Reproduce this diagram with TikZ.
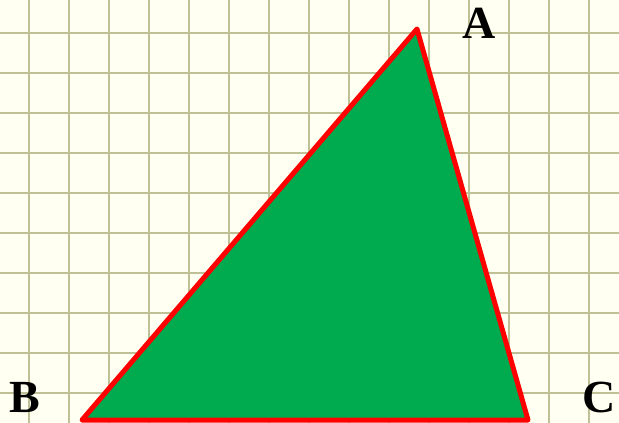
\documentclass[tikz,border=0pt]{standalone}
\usepackage{fontspec}
\setmainfont{Liberation Serif}
\definecolor{paper}{RGB}{255,255,242}
\definecolor{gridc}{RGB}{192,192,150}
\definecolor{trifill}{RGB}{0,171,80}
\definecolor{triedge}{RGB}{255,0,0}
\tikzset{
  lbl/.style={font=\fontsize{46}{46}\selectfont\bfseries, inner sep=0pt, anchor=base},
  gridline/.style={draw=gridc, line width=2.6pt},
  tri/.style={fill=trifill, draw=triedge, line width=5pt, line join=round}
}
\begin{document}
\begin{tikzpicture}[x=1pt,y=-1pt]
\useasboundingbox (0,0) rectangle (619,423);
\fill[paper] (0,0) rectangle (619,423);
\foreach \i in {0,...,15} {
  \draw[gridline] (29+40*\i,0) -- (29+40*\i,423);
}
\foreach \j in {0,...,9} {
  \draw[gridline] (0,33+40*\j) -- (619,33+40*\j);
}
\coordinate (A) at (417,29);
\coordinate (B) at (82,420);
\coordinate (C) at (528,420);
\draw[tri] (A) -- (B) -- (C) -- cycle;
\node[lbl] (la) at (479,38) {A};
\node[lbl] (lb) at (25,412) {B};
\node[lbl] (lc) at (599,412) {C};
\end{tikzpicture}
\end{document}
